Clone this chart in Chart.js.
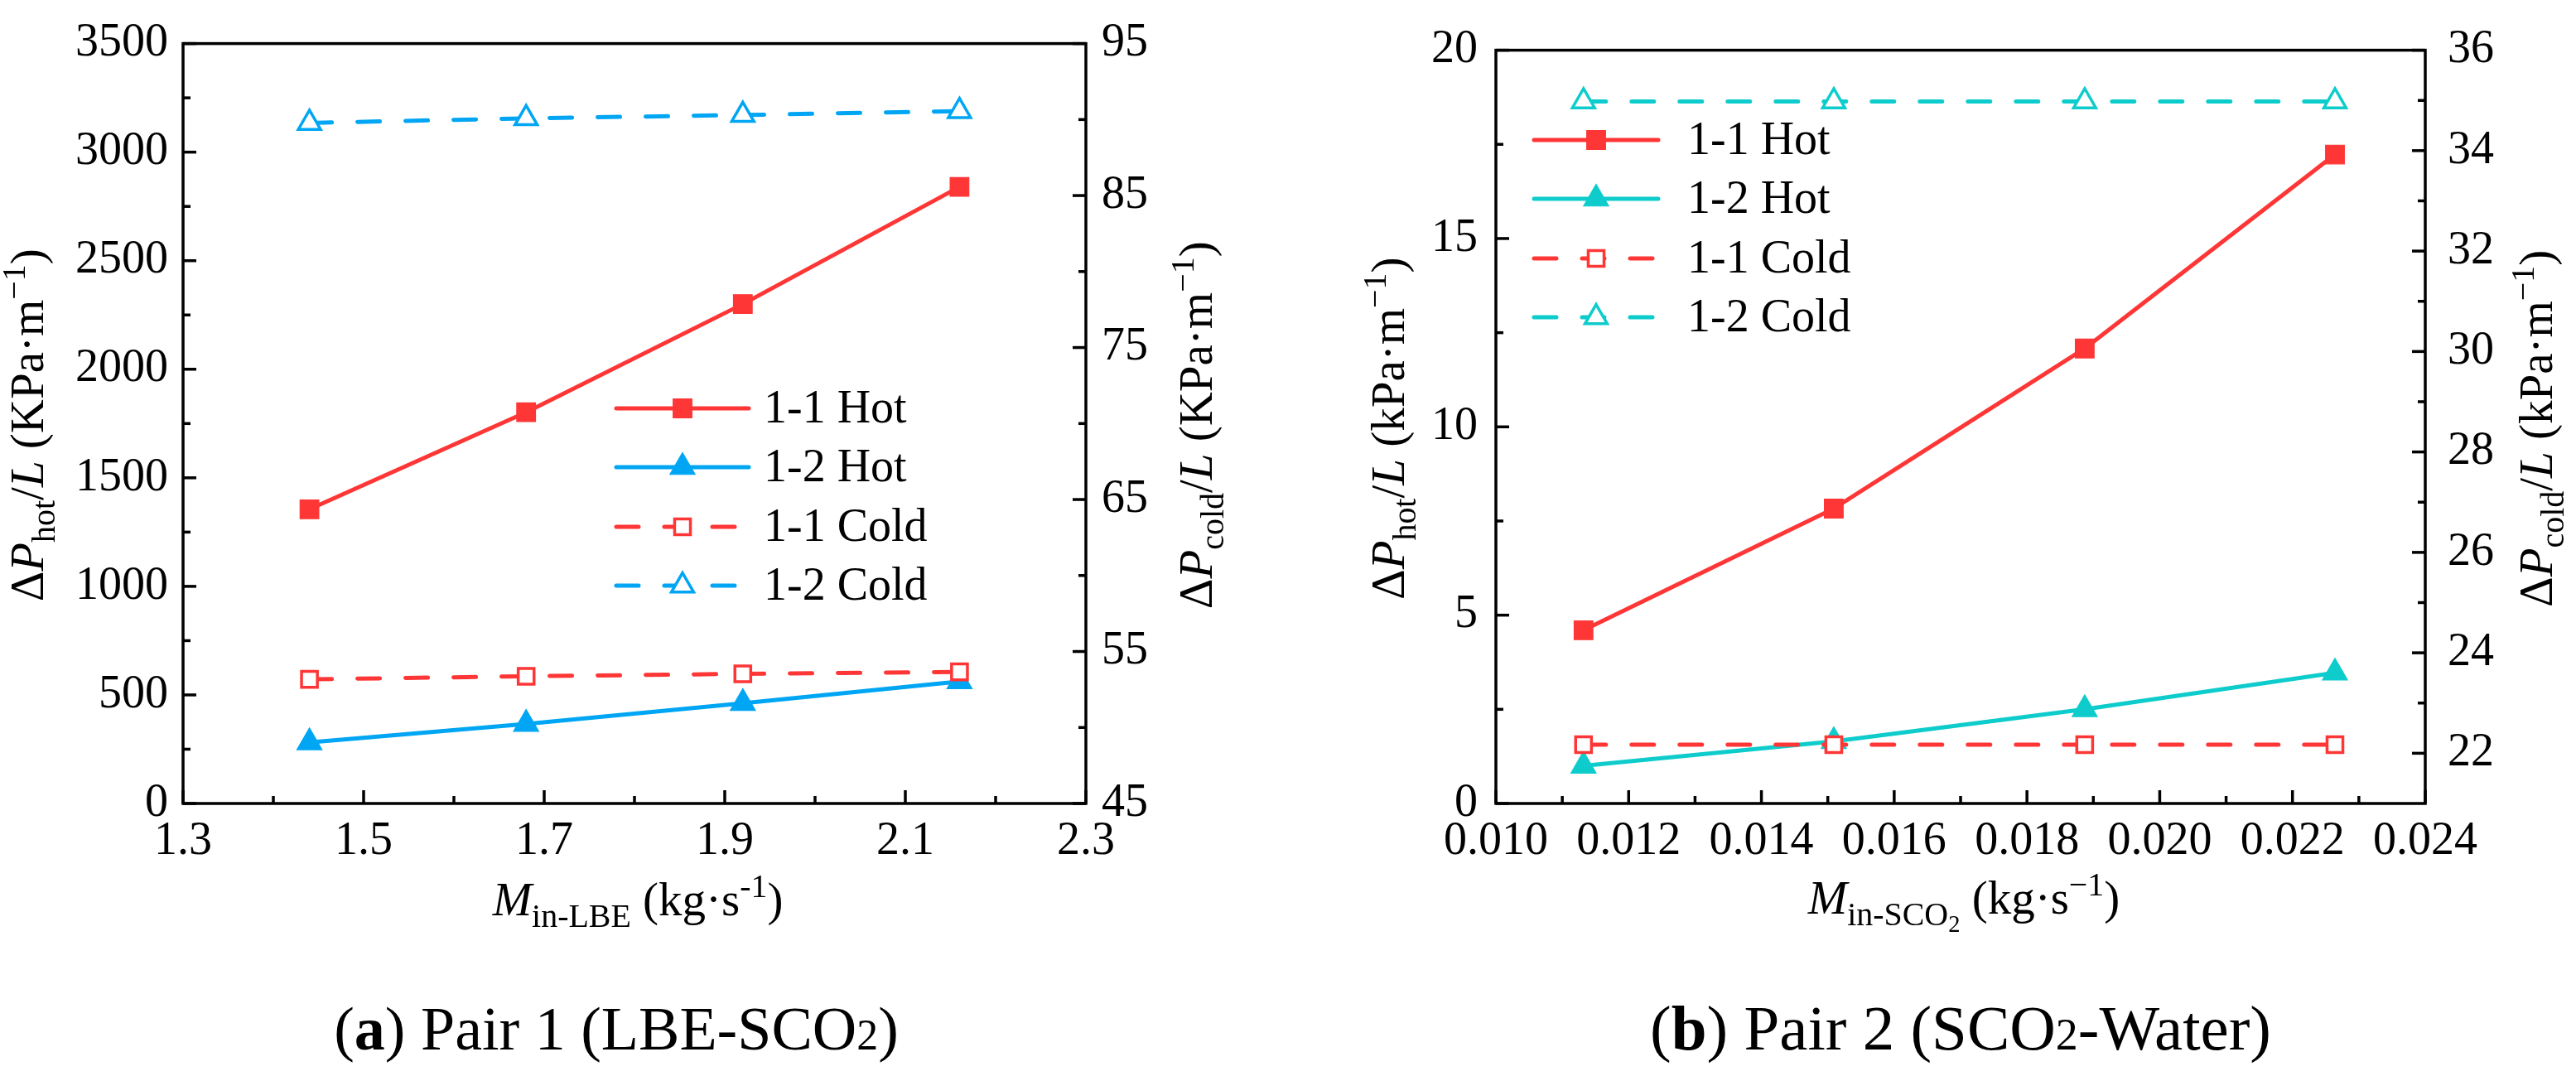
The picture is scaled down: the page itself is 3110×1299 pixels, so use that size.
<!DOCTYPE html>
<html><head><meta charset="utf-8">
<script src="https://cdn.jsdelivr.net/npm/chart.js@4.4.1/dist/chart.umd.min.js"></script>
<style>
html,body{margin:0;padding:0;background:#fff;}
body{width:3110px;height:1299px;position:relative;overflow:hidden;font-family:"Liberation Serif","Times New Roman",serif;}
canvas{position:absolute;top:0;}
#ca{left:0}
#cb{left:1555px}
.cap{position:absolute;white-space:nowrap;color:#000;line-height:1;transform:translateX(-50%);}
.cap .s{font-size:0.7em}
</style></head><body>
<canvas id="ca" width="1555" height="1140"></canvas>
<canvas id="cb" width="1555" height="1140"></canvas>
<div class="cap" style="left:744px;top:1205px;font-size:74px">(<b>a</b>) Pair 1 (LBE-SCO<span class="s">2</span>)</div>
<div class="cap" style="left:2367px;top:1203px;font-size:77px">(<b>b</b>) Pair 2 (SCO<span class="s">2</span>-Water)</div>
<script>
// ---------- data: chart (a) Pair 1 (LBE-SCO2) ----------
const seriesNames = ['1-1 Hot', '1-2 Hot', '1-1 Cold', '1-2 Cold'];
const xA = [1.44, 1.68, 1.92, 2.16];
const hot11A = [1355, 1802, 2300, 2840];
const hot12A = [281, 366, 462, 562];
const cold11A = [53.17, 53.37, 53.53, 53.66];
const cold12A = [89.78, 90.08, 90.30, 90.55];
const xTicksA = [1.3, 1.5, 1.7, 1.9, 2.1, 2.3];
const yTicksA = [0, 500, 1000, 1500, 2000, 2500, 3000, 3500];
const y2TicksA = [45, 55, 65, 75, 85, 95];

// ---------- data: chart (b) Pair 2 (SCO2-Water) ----------
const xB = [0.01132, 0.01509, 0.01887, 0.02264];
const hot11B = [4.6, 7.83, 12.08, 17.23];
const hot12B = [1.0, 1.65, 2.5, 3.47];
const cold11B = [22.17, 22.17, 22.17, 22.17];
const cold12B = [34.98, 34.98, 34.98, 34.98];
const xTicksB = [0.010, 0.012, 0.014, 0.016, 0.018, 0.020, 0.022, 0.024];
const yTicksB = [0, 5, 10, 15, 20];
const y2TicksB = [22, 24, 26, 28, 30, 32, 34, 36];

const RED = '#FF3636', BLUE = '#00A6F4', CYAN = '#0FCCCC';
const FONT = '"Liberation Serif", "Times New Roman", serif';
const TITLE_SIZE = 57;
Chart.defaults.font.family = FONT;
Chart.defaults.color = '#000';

function mids(a) { const r = []; for (let i = 0; i < a.length - 1; i++) r.push((a[i] + a[i + 1]) / 2); return r; }

function ds(label, xs, ys, color, shape, filled, dashed, axis, order) {
  const r = filled ? (shape === 'rect' ? 16 : 17.5) : (shape === 'rect' ? 13.5 : 15.5);
  return {
    label, yAxisID: axis, order,
    data: xs.map((x, i) => ({ x, y: ys[i] })),
    borderColor: color, backgroundColor: color, borderWidth: 5,
    borderDash: dashed ? [27, 31] : [], borderCapStyle: 'round', borderJoinStyle: 'round',
    tension: 0, fill: false,
    pointStyle: shape,
    pointRadius: r,
    pointHoverRadius: r,
    pointBorderWidth: filled ? 1.2 : 3.5,
    pointBackgroundColor: filled ? color : '#ffffff',
    pointBorderColor: color
  };
}

function drawRich(ctx, segs, size, cx, cy, rot) {
  ctx.save();
  ctx.translate(cx, cy);
  if (rot) ctx.rotate(rot);
  ctx.textBaseline = 'alphabetic';
  ctx.textAlign = 'left';
  ctx.fillStyle = '#000';
  let total = 0;
  const m = segs.map(s => {
    const f = (s.i ? 'italic ' : '') + (size * (s.k || 1)) + 'px ' + FONT;
    ctx.font = f;
    const w = ctx.measureText(s.t).width + (s.g || 0) * size;
    total += w;
    return { f, w };
  });
  let x = -total / 2;
  segs.forEach((s, j) => { ctx.font = m[j].f; ctx.fillText(s.t, x, (s.dy || 0) * size); x += m[j].w; });
  ctx.restore();
}

function marker(ctx, shape, x, y, r, bw, fillC, strokeC) {
  ctx.save();
  ctx.beginPath();
  if (shape === 'rect') {
    const s = r * Math.SQRT1_2;
    ctx.rect(x - s, y - s, 2 * s, 2 * s);
  } else {
    let a = 0;
    for (let k = 0; k < 3; k++) {
      const px = x + Math.sin(a) * r, py = y - Math.cos(a) * r;
      if (k === 0) ctx.moveTo(px, py); else ctx.lineTo(px, py);
      a += 2 * Math.PI / 3;
    }
    ctx.closePath();
  }
  ctx.fillStyle = fillC; ctx.fill();
  ctx.lineWidth = bw; ctx.strokeStyle = strokeC; ctx.setLineDash([]); ctx.stroke();
  ctx.restore();
}

const decoPlugin = {
  id: 'deco',
  beforeDatasetsDraw(chart, args, o) {
    const ctx = chart.ctx, a = chart.chartArea;
    const sx = chart.scales.x, sy = chart.scales.y, sy2 = chart.scales.y2;
    ctx.save();
    ctx.strokeStyle = '#000';
    ctx.lineWidth = 3.5;
    ctx.lineCap = 'butt';
    const MAJ = 16, MIN = 9;
    const tickX = (vals, len) => vals.forEach(v => { const p = sx.getPixelForValue(v); ctx.beginPath(); ctx.moveTo(p, a.bottom); ctx.lineTo(p, a.bottom - len); ctx.stroke(); });
    const tickY = (sc, vals, len, right) => vals.forEach(v => { const p = sc.getPixelForValue(v); const x0 = right ? a.right : a.left; ctx.beginPath(); ctx.moveTo(x0, p); ctx.lineTo(right ? x0 - len : x0 + len, p); ctx.stroke(); });
    tickX(o.xT, MAJ); tickX(mids(o.xT), MIN);
    tickY(sy, o.yT, MAJ, false); tickY(sy, mids(o.yT), MIN, false);
    tickY(sy2, o.y2T, MAJ, true); tickY(sy2, mids(o.y2T), MIN, true);
    ctx.lineJoin = 'miter';
    ctx.strokeRect(a.left, a.top, a.right - a.left, a.bottom - a.top);
    ctx.restore();
  },
  afterDraw(chart, args, o) {
    const ctx = chart.ctx, a = chart.chartArea;
    const cy = (a.top + a.bottom) / 2 + 2;
    drawRich(ctx, o.yTitle, TITLE_SIZE, o.yTitleX, cy, -Math.PI / 2);
    drawRich(ctx, o.y2Title, TITLE_SIZE, o.y2TitleX, cy, -Math.PI / 2);
    drawRich(ctx, o.xTitle, TITLE_SIZE, (a.left + a.right) / 2 + 4, o.xTitleY, 0);
    const L = o.legend;
    chart.data.datasets.forEach((d, i) => {
      const y = L.rows[i];
      ctx.save();
      ctx.strokeStyle = d.borderColor; ctx.lineWidth = d.borderWidth; ctx.lineCap = 'round';
      ctx.setLineDash(d.borderDash);
      ctx.beginPath(); ctx.moveTo(L.x0, y); ctx.lineTo(L.x1, y); ctx.stroke();
      ctx.restore();
      marker(ctx, d.pointStyle, (L.x0 + L.x1) / 2, y, d.pointRadius, d.pointBorderWidth, d.pointBackgroundColor, d.pointBorderColor);
      ctx.save();
      ctx.fillStyle = '#000'; ctx.font = '56px ' + FONT; ctx.textBaseline = 'middle'; ctx.textAlign = 'left';
      ctx.fillText(d.label, L.tx, y + 2);
      ctx.restore();
    });
  }
};

function tickFont() { return { family: FONT, size: 56, lineHeight: 1.2 }; }

function makeChart(id, cfg) {
  const axisCommon = (ticksArr, fmt, pad) => ({
    type: 'linear',
    afterBuildTicks: s => { s.ticks = ticksArr.map(v => ({ value: v })); },
    ticks: { font: tickFont(), color: '#000', padding: pad, maxRotation: 0, minRotation: 0, autoSkip: false, callback: fmt },
    grid: { display: false, drawTicks: false },
    border: { display: false }
  });
  const x = Object.assign(axisCommon(cfg.xT, cfg.xFmt, 13), { min: cfg.xMin, max: cfg.xMax, position: 'bottom', afterFit: s => { s.height = 170; } });
  const y = Object.assign(axisCommon(cfg.yT, v => String(v), cfg.yPad), { min: cfg.yMin, max: cfg.yMax, position: 'left', afterFit: s => { s.width = cfg.leftW; } });
  const y2 = Object.assign(axisCommon(cfg.y2T, v => String(v), cfg.y2Pad), { min: cfg.y2Min, max: cfg.y2Max, position: 'right', afterFit: s => { s.width = cfg.rightW; } });
  return new Chart(document.getElementById(id), {
    type: 'line',
    data: { datasets: cfg.datasets },
    options: {
      responsive: false, animation: false, events: [],
      layout: { padding: { top: 47, left: 0, right: 0, bottom: 0 } },
      scales: { x, y, y2 },
      plugins: {
        legend: { display: false }, tooltip: { enabled: false },
        deco: {
          xT: cfg.xT, yT: cfg.yT, y2T: cfg.y2T,
          yTitle: cfg.yTitle, y2Title: cfg.y2Title, xTitle: cfg.xTitle,
          yTitleX: cfg.yTitleX, y2TitleX: cfg.y2TitleX, xTitleY: cfg.xTitleY,
          legend: cfg.legend
        }
      }
    },
    plugins: [decoPlugin]
  });
}

const sub = (t) => ({ t, k: 0.7, dy: 0.24 });
const sup = (t) => ({ t, k: 0.7, dy: -0.38 });

makeChart('ca', {
  xT: xTicksA, yT: yTicksA, y2T: y2TicksA,
  xMin: 1.3, xMax: 2.3, yMin: 0, yMax: 3500, y2Min: 45, y2Max: 95,
  xFmt: v => Number(v).toFixed(1),
  leftW: 221, rightW: 244, yPad: 18, y2Pad: 19,
  yTitle: [{ t: 'Δ' }, { t: 'P', i: 1 }, sub('hot'), { t: '/' }, { t: 'L', i: 1 }, { t: ' (KPa·m' }, sup('−1'), { t: ')' }],
  y2Title: [{ t: 'Δ' }, { t: 'P', i: 1 }, sub('cold'), { t: '/' }, { t: 'L', i: 1 }, { t: ' (KPa·m' }, sup('−1'), { t: ')' }],
  xTitle: [{ t: 'M', i: 1 }, sub('in-LBE'), { t: ' (kg·s' }, sup('-1'), { t: ')' }],
  yTitleX: 52, y2TitleX: 1463, xTitleY: 1105,
  legend: { x0: 744, x1: 904, tx: 922, rows: [493, 564, 636, 707] },
  datasets: [
    ds(seriesNames[0], xA, hot11A, RED, 'rect', true, false, 'y', 1),
    ds(seriesNames[1], xA, hot12A, BLUE, 'triangle', true, false, 'y', 2),
    ds(seriesNames[2], xA, cold11A, RED, 'rect', false, true, 'y2', 0),
    ds(seriesNames[3], xA, cold12A, BLUE, 'triangle', false, true, 'y2', 3)
  ]
});

makeChart('cb', {
  xT: xTicksB, yT: yTicksB, y2T: y2TicksB,
  xMin: 0.010, xMax: 0.024, yMin: 0, yMax: 20, y2Min: 21, y2Max: 36,
  xFmt: v => Number(v).toFixed(3),
  leftW: 251, rightW: 182, yPad: 22, y2Pad: 27,
  yTitle: [{ t: 'Δ' }, { t: 'P', i: 1 }, sub('hot'), { t: '/' }, { t: 'L', i: 1 }, { t: ' (kPa·m' }, sup('−1'), { t: ')' }],
  y2Title: [{ t: 'Δ' }, { t: 'P', i: 1 }, sub('cold'), { t: '/' }, { t: 'L', i: 1 }, { t: ' (kPa·m' }, sup('−1'), { t: ')' }],
  xTitle: [{ t: 'M', i: 1 }, sub('in-SCO'), { t: '2', k: 0.5, dy: 0.38 }, { t: ' (kg·s' }, sup('−1'), { t: ')' }],
  yTitleX: 140, y2TitleX: 1526, xTitleY: 1103,
  legend: { x0: 297, x1: 447, tx: 482, rows: [169, 240, 312, 383] },
  datasets: [
    ds(seriesNames[0], xB, hot11B, RED, 'rect', true, false, 'y', 1),
    ds(seriesNames[1], xB, hot12B, CYAN, 'triangle', true, false, 'y', 2),
    ds(seriesNames[2], xB, cold11B, RED, 'rect', false, true, 'y2', 0),
    ds(seriesNames[3], xB, cold12B, CYAN, 'triangle', false, true, 'y2', 3)
  ]
});
</script>
</body></html>
